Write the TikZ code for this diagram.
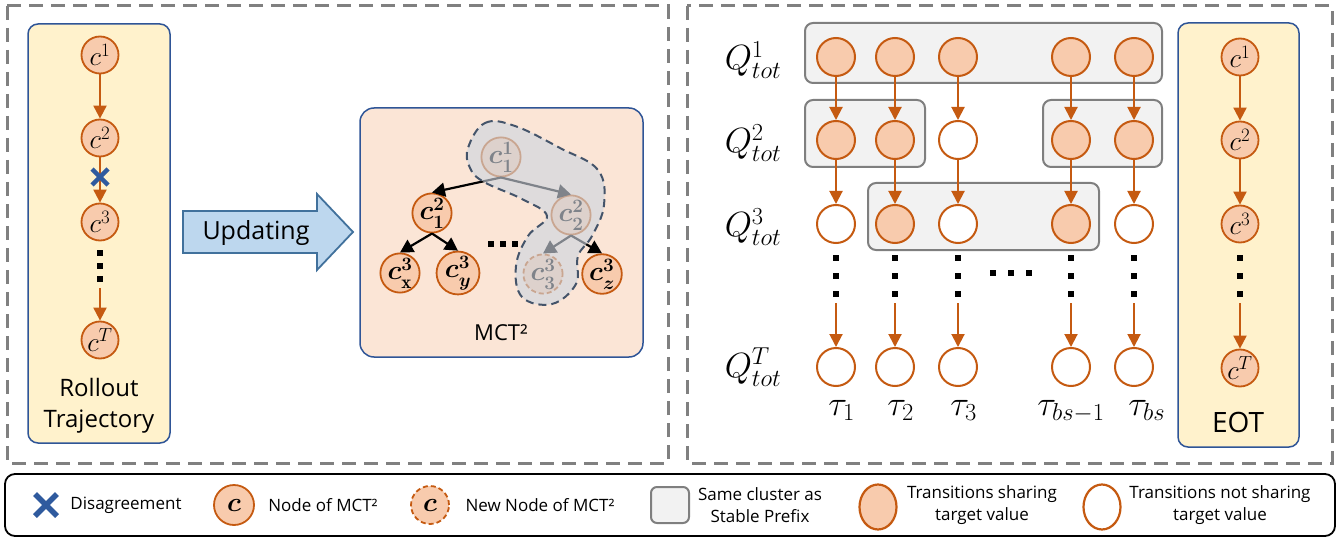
\RequirePackage{fix-cm}
\documentclass[tikz,border=0pt]{standalone}
\usepackage{fontspec}
\usepackage{amsmath,mathtools}
\setsansfont{Open Sans}
\usetikzlibrary{arrows.meta,shapes.geometric}
\definecolor{nodeFill}{HTML}{F8CBAD}
\definecolor{nodeLine}{HTML}{C55A11}
\definecolor{yelFill}{HTML}{FFF2CC}
\definecolor{blueLine}{HTML}{2F5597}
\definecolor{peach}{HTML}{FBE5D6}
\definecolor{arrFill}{HTML}{BDD7EE}
\definecolor{arrLine}{HTML}{41719C}
\definecolor{grayBox}{HTML}{F2F2F2}
\definecolor{grayLine}{HTML}{7F7F7F}
\definecolor{blobFill}{HTML}{CDD5E0}
\definecolor{blobLine}{HTML}{44546A}
\definecolor{panelDash}{HTML}{808080}
\definecolor{xBlue}{HTML}{2F5A9E}
\begin{document}
\begin{tikzpicture}[x=1pt,y=-1pt,
  cnode/.style={circle, draw=nodeLine, fill=nodeFill, line width=1.8pt, minimum size=37pt, inner sep=0pt, font=\fontsize{27}{27}\selectfont},
  qnode/.style={circle, draw=nodeLine, fill=nodeFill, line width=2pt, minimum size=38pt, inner sep=0pt},
  enode/.style={qnode, fill=white},
  oarrow/.style={draw=nodeLine, line width=2pt, -{Triangle[length=13pt,width=13pt]}},
  karrow/.style={draw=black, line width=2.2pt, -{Triangle[length=13pt,width=14pt]}},
  sqdot/.style={fill=black, minimum size=5.5pt, inner sep=0pt},
  panel/.style={draw=panelDash, line width=3pt, dash pattern=on 14pt off 8pt},
  yelbox/.style={draw=blueLine, fill=yelFill, line width=1.5pt, rounded corners=10pt},
  graybox/.style={draw=grayLine, fill=grayBox, line width=2pt, rounded corners=8pt},
  xm/.style={draw=xBlue, line width=4.5pt},
  sans/.style={font=\sffamily\fontsize{#1}{#1}\selectfont},
  legtxt/.style={font=\sffamily\fontsize{17}{22}\selectfont, align=center},
  qlab/.style={font=\fontsize{35}{35}\selectfont},
]
\useasboundingbox (0,0) rectangle (1343,540);
% panels
\draw[panel] (7,6) rectangle (668,463);
\draw[panel] (687,6) rectangle (1332,463);

% ---------- left panel ----------
\draw[yelbox] (28,24) rectangle (170,443);
\node[cnode] (r1) at (100,55) {$c^1$};
\node[cnode] (r2) at (100,138) {$c^2$};
\node[cnode] (r3) at (100,222) {$c^3$};
\node[cnode] (rT) at (100,340) {$c^T$};
\draw[oarrow] (r1) -- (r2);
\draw[oarrow] (r2) -- (r3);
\draw[xm, shift={(100,177)}] (-8,-8) -- (8,8) (-8,8) -- (8,-8);
\node[sqdot] (rd1) at (100,253) {};
\node[sqdot] (rd2) at (100,266) {};
\node[sqdot] (rd3) at (100,279) {};
\coordinate (rs) at (100,288);
\draw[oarrow] (rs) -- (rT);
\node[sans=24, align=center] (rlab) at (99,406) {Rollout\\[7pt]Trajectory};

% updating arrow
\draw[draw=arrLine, fill=arrFill, line width=1.8pt, line join=miter]
  (183,211) -- (317,211) -- (317,194) -- (353,232) -- (317,270) -- (317,253) -- (183,253) -- cycle;
\node[sans=25] (upd) at (256,233) {Updating};

% MCT box
\draw[draw=blueLine, fill=peach, line width=1.5pt, rounded corners=14pt] (360,108) rectangle (643,357);
\node[cnode] (t11) at (501,157) {$\boldsymbol{c_1^1}$};
\node[cnode] (t21) at (432,213) {$\boldsymbol{c_1^2}$};
\node[cnode] (t22) at (571,215) {$\boldsymbol{c_2^2}$};
\node[cnode] (t3x) at (400,273) {$\boldsymbol{c_{\mathrm{x}}^3}$};
\node[cnode] (t3y) at (458,273) {$\boldsymbol{c_y^3}$};
\node[cnode, dashed, dash pattern=on 5pt off 3pt] (t33) at (543,274) {$\boldsymbol{c_3^3}$};
\node[cnode] (t3z) at (602,274) {$\boldsymbol{c_z^3}$};
\draw[karrow] (t11.south) -- (t21.north);
\draw[karrow] (t11.south) -- (t22.north);
\draw[karrow] (t21.south) -- (t3x.north);
\draw[karrow] (t21.south) -- (t3y.north);
\draw[karrow] (t22.south) -- (t33.north);
\draw[karrow] (t22.south) -- (t3z.north);
\node[sqdot, minimum size=6pt] (td1) at (491,244) {};
\node[sqdot, minimum size=6pt] (td2) at (503,244) {};
\node[sqdot, minimum size=6pt] (td3) at (515,244) {};
% blob
\draw[draw=blobLine, fill=blobFill, fill opacity=0.62, line width=2pt, dash pattern=on 8pt off 5pt]
  plot[smooth cycle, tension=0.65] coordinates {(468,148) (485,123) (515,126) (560,148) (598,170) (604,205) (592,236) (578,256) (576,284) (552,304) (522,297) (516,266) (528,236) (547,216) (522,199) (484,182) (470,168)};
\node[sans=22] (mct) at (501,333) {MCT²};

% ---------- right panel ----------
\draw[graybox] (805,23) rectangle (1162,83);
\draw[graybox] (805,100) rectangle (925,167);
\draw[graybox] (1043,100) rectangle (1162,167);
\draw[graybox] (868,183) rectangle (1099,250);

\foreach \c/\x in {1/836, 2/895, 3/958, 4/1071, 5/1134} {
  \node[qnode] (a\c) at (\x,57) {};
  \node[sqdot] (d\c a) at (\x,258) {};
  \node[sqdot] (d\c b) at (\x,276) {};
  \node[sqdot] (d\c c) at (\x,294) {};
  \coordinate (s\c) at (\x,303);
  \node[enode] (z\c) at (\x,367) {};
}
\node[qnode] (b1) at (836,140) {};
\node[qnode] (b2) at (895,140) {};
\node[enode] (b3) at (958,140) {};
\node[qnode] (b4) at (1071,140) {};
\node[qnode] (b5) at (1134,140) {};
\node[enode] (c1) at (836,224) {};
\node[qnode] (c2) at (895,224) {};
\node[enode] (c3) at (958,224) {};
\node[qnode] (c4) at (1071,224) {};
\node[enode] (c5) at (1134,224) {};
\foreach \c in {1,...,5} {
  \draw[oarrow] (a\c) -- (b\c);
  \draw[oarrow] (b\c) -- (c\c);
  \draw[oarrow] (s\c) -- (z\c);
}
\node[sqdot] (h1) at (993,273) {};
\node[sqdot] (h2) at (1011,273) {};
\node[sqdot] (h3) at (1029,273) {};

\node[qlab] (q1) at (753,60) {$Q^{1}_{tot}$};
\node[qlab] (q2) at (753,143) {$Q^{2}_{tot}$};
\node[qlab] (q3) at (753,227) {$Q^{3}_{tot}$};
\node[qlab] (qT) at (753,367) {$Q^{T}_{tot}$};

\node[qlab, anchor=base] (tau1) at (836,415) {$\tau_{\mathrlap{1}}$};
\node[qlab, anchor=base] (tau2) at (895,415) {$\tau_{\mathrlap{2}}$};
\node[qlab, anchor=base] (tau3) at (958,415) {$\tau_{\mathrlap{3}}$};
\node[qlab, anchor=base] (tau4) at (1045,415) {$\tau_{\mathrlap{bs-1}}$};
\node[qlab, anchor=base] (tau5) at (1136,415) {$\tau_{\mathrlap{bs}}$};

% EOT
\draw[yelbox] (1178,23) rectangle (1299,447);
\node[cnode] (e1) at (1240,57) {$c^1$};
\node[cnode] (e2) at (1240,140) {$c^2$};
\node[cnode] (e3) at (1240,224) {$c^3$};
\node[cnode] (eT) at (1240,368) {$c^T$};
\draw[oarrow] (e1) -- (e2);
\draw[oarrow] (e2) -- (e3);
\node[sqdot] (ed1) at (1240,258) {};
\node[sqdot] (ed2) at (1240,276) {};
\node[sqdot] (ed3) at (1240,294) {};
\coordinate (es) at (1240,303);
\draw[oarrow] (es) -- (eT);
\node[sans=28] (eot) at (1238,422) {EOT};

% ---------- legend ----------
\draw[draw=black, line width=1.8pt, rounded corners=10pt] (5,474) rectangle (1335,536);
\draw[xm, line width=5.5pt, shift={(46,505)}] (-11,-11) -- (11,11) (-11,11) -- (11,-11);
\node[legtxt] (l1) at (126,505) {Disagreement};
\node[cnode, minimum size=40pt] (ln1) at (234,505) {$\boldsymbol{c}$};
\node[legtxt] (l2) at (323,505) {Node of MCT²};
\node[cnode, minimum size=38pt, dashed, dash pattern=on 5pt off 3pt] (ln2) at (430,505) {$\boldsymbol{c}$};
\node[legtxt] (l3) at (540,505) {New Node of MCT²};
\draw[graybox, rounded corners=6pt] (651,487) rectangle (689,523);
\node[legtxt] (l4) at (760,505) {Same cluster as\\Stable Prefix};
\node[ellipse, draw=nodeLine, fill=nodeFill, line width=2.2pt, minimum width=37pt, minimum height=45pt, inner sep=0pt] (ln3) at (878,507) {};
\node[legtxt] (l5) at (982,505) {Transitions sharing\\target value};
\node[ellipse, draw=nodeLine, fill=white, line width=2.2pt, minimum width=37pt, minimum height=45pt, inner sep=0pt] (ln4) at (1102,507) {};
\node[legtxt] (l6) at (1220,505) {Transitions not sharing\\target value};
\end{tikzpicture}
\end{document}
